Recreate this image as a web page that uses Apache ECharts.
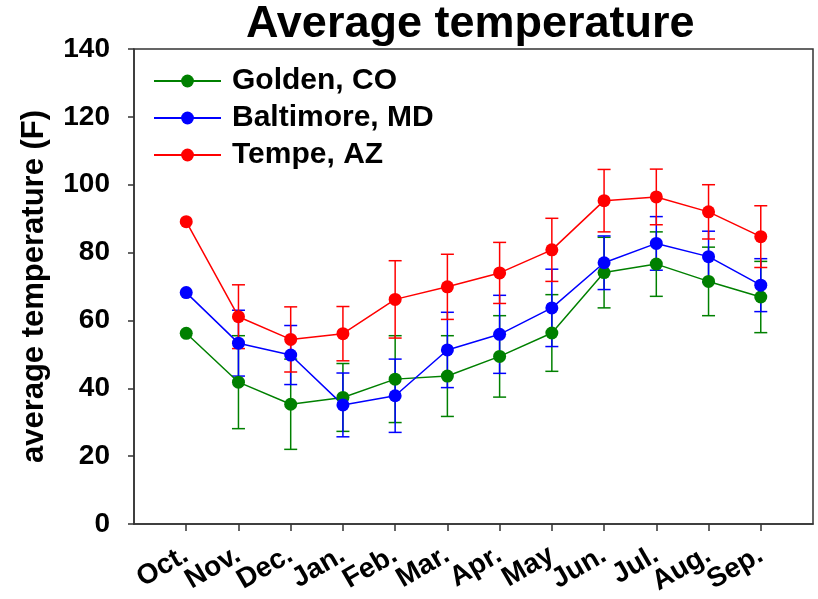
<!DOCTYPE html>
<html>
<head>
<meta charset="utf-8">
<script src="https://cdn.jsdelivr.net/npm/echarts@6/dist/echarts.min.js"></script>
<style>
  html, body { margin: 0; padding: 0; background: #fff; }
  #chart { width: 818px; height: 599px; }
</style>
</head>
<body>
<div id="chart"></div>
<script>
// Monthly average temperatures (F) with standard deviation bars
const months = ['Oct.', 'Nov.', 'Dec.', 'Jan.', 'Feb.', 'Mar.', 'Apr.', 'May', 'Jun.', 'Jul.', 'Aug.', 'Sep.'];
const monthPos = [1, 2, 3, 4, 5, 6, 7, 8, 9, 10, 11, 12];

const goldenMean    = [56.2, 41.8, 35.3, 37.3, 42.7, 43.6, 49.4, 56.3, 74.1, 76.6, 71.5, 66.9];
const goldenErr     = [null, 13.7, 13.3, 10.0, 12.8, 11.9, 12.0, 11.3, 10.4, 9.5, 10.1, 10.5];
const baltimoreMean = [68.2, 53.3, 49.8, 35.1, 37.8, 51.3, 55.9, 63.7, 77.0, 82.7, 78.8, 70.4];
const baltimoreErr  = [null, 9.7, 8.7, 9.4, 10.8, 11.1, 11.5, 11.4, 7.9, 7.9, 7.5, 7.8];
const tempeMean     = [89.1, 61.1, 54.4, 56.1, 66.2, 69.9, 74.0, 80.8, 95.3, 96.4, 92.0, 84.7];
const tempeErr      = [null, 9.4, 9.6, 8.0, 11.4, 9.6, 9.0, 9.3, 9.2, 8.2, 8.0, 9.1];

const yMin = 0, yMax = 140, yStep = 20;

const FONT = "'Liberation Sans', Arial, Helvetica, sans-serif";
const FRAME = '#333333';

const cities = [
  { name: 'Golden, CO',    color: '#008000', mean: goldenMean,    err: goldenErr },
  { name: 'Baltimore, MD', color: '#0000ff', mean: baltimoreMean, err: baltimoreErr },
  { name: 'Tempe, AZ',     color: '#ff0000', mean: tempeMean,     err: tempeErr }
];

function errorBarSeries(city) {
  const data = [];
  city.mean.forEach((m, i) => {
    if (city.err[i] != null) data.push([monthPos[i], m, city.err[i]]);
  });
  return {
    type: 'custom',
    name: city.name + ' sd',
    data: data,
    silent: true,
    z: 2,
    encode: { x: 0, y: 1 },
    renderItem: function (params, api) {
      const x = api.value(0), m = api.value(1), e = api.value(2);
      const top = api.coord([x, m + e]);
      const bot = api.coord([x, m - e]);
      const hw = 6.5;
      const st = { stroke: city.color, lineWidth: 1.5 };
      return {
        type: 'group',
        children: [
          { type: 'line', shape: { x1: top[0], y1: top[1], x2: bot[0], y2: bot[1] }, style: st },
          { type: 'line', shape: { x1: top[0] - hw, y1: top[1], x2: top[0] + hw, y2: top[1] }, style: st },
          { type: 'line', shape: { x1: bot[0] - hw, y1: bot[1], x2: bot[0] + hw, y2: bot[1] }, style: st }
        ]
      };
    }
  };
}

function lineSeries(city) {
  return {
    type: 'line',
    name: city.name,
    data: city.mean.map((m, i) => [monthPos[i], m]),
    symbol: 'circle',
    symbolSize: 13,
    showSymbol: true,
    z: 3,
    lineStyle: { color: city.color, width: 1.5 },
    itemStyle: { color: city.color },
    emphasis: { disabled: true }
  };
}

const series = [];
cities.forEach(c => { series.push(errorBarSeries(c)); series.push(lineSeries(c)); });

// Month labels are split over two stacked bottom axes (odd / even months)
// so the rotated labels are never dropped for overlapping their neighbours.
const oddPos = monthPos.filter((p, i) => i % 2 === 0);
const evenPos = monthPos.filter((p, i) => i % 2 === 1);

const monthLabel = (values) => ({
  customValues: values,
  formatter: v => months[Math.round(v) - 1] || '',
  showMinLabel: true,
  showMaxLabel: true,
  hideOverlap: false,
  rotate: 30,
  margin: 29,
  fontFamily: FONT, fontSize: 28, fontWeight: 'bold', color: '#000'
});

const chart = echarts.init(document.getElementById('chart'), null, { renderer: 'canvas' });
chart.setOption({
  animation: false,
  backgroundColor: '#ffffff',
  textStyle: { fontFamily: FONT },
  title: {
    text: 'Average temperature',
    left: 246,
    top: 2,
    padding: 0,
    textStyle: { fontFamily: FONT, fontSize: 45, fontWeight: 'bold', color: '#000' }
  },
  legend: {
    data: cities.map(c => c.name),
    orient: 'vertical',
    left: 148,
    top: 61,
    itemWidth: 67,
    itemHeight: 16,
    itemGap: 7,
    selectedMode: false,
    textStyle: { fontFamily: FONT, fontSize: 30, fontWeight: 'bold', color: '#000', lineHeight: 30, padding: [0, 0, 0, 6] }
  },
  grid: {
    left: 134, right: 5, top: 49, bottom: 75,
    show: true, borderColor: FRAME, borderWidth: 1.5, backgroundColor: 'transparent'
  },
  xAxis: [
    {
      type: 'value',
      min: 0,
      max: 13,
      position: 'bottom',
      splitLine: { show: false },
      axisLine: { show: true, onZero: false, lineStyle: { color: FRAME, width: 1.5 } },
      axisTick: { show: true, length: 7, lineStyle: { color: FRAME, width: 1.5 }, customValues: monthPos },
      axisLabel: monthLabel(oddPos)
    },
    {
      type: 'value',
      min: 0,
      max: 13,
      position: 'bottom',
      offset: 0,
      splitLine: { show: false },
      axisLine: { show: false, onZero: false },
      axisTick: { show: false },
      axisLabel: monthLabel(evenPos)
    }
  ],
  yAxis: {
    type: 'value',
    min: yMin,
    max: yMax,
    interval: yStep,
    name: 'average temperature (F)',
    nameLocation: 'middle',
    nameGap: 84,
    nameTextStyle: { fontFamily: FONT, fontSize: 31, fontWeight: 'bold', color: '#000' },
    splitLine: { show: false },
    axisLine: { show: true, lineStyle: { color: FRAME, width: 1.5 } },
    axisTick: { show: true, length: 6, lineStyle: { color: FRAME, width: 1.5 } },
    axisLabel: { margin: 24, fontFamily: FONT, fontSize: 28, fontWeight: 'bold', color: '#000' }
  },
  series: series
});
</script>
</body>
</html>
